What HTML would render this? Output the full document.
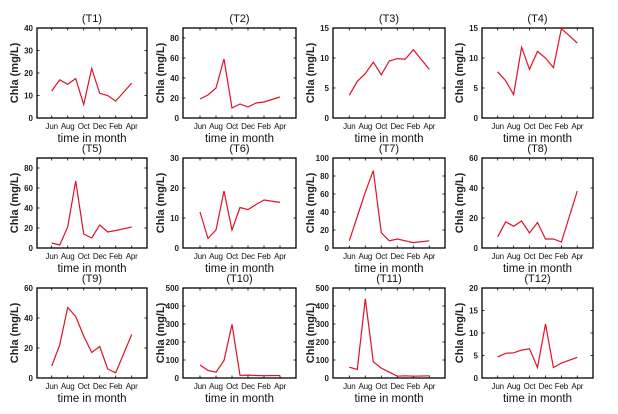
<!DOCTYPE html>
<html><head><meta charset="utf-8"><style>
body{margin:0;background:#fff;}
svg{display:block;font-family:"Liberation Sans",Arial,sans-serif;}
</style></head><body>
<svg id="chart" width="618" height="414" viewBox="0 0 618 414"></svg>
<script>
const months = ["Jun","Jul","Aug","Sep","Oct","Nov","Dec","Jan","Feb","Apr"];
const monthIdx = [0,1,2,3,4,5,6,7,8,10];
const tickLabels = ["Jun","Aug","Oct","Dec","Feb","Apr"];
const tickIdx = [0,2,4,6,8,10];
const titles = ["(T1)","(T2)","(T3)","(T4)","(T5)","(T6)","(T7)","(T8)","(T9)","(T10)","(T11)","(T12)"];
const yMax = [40,90,15,15,90,30,100,60,60,500,500,20];
const yStep = [10,20,5,5,20,10,20,20,20,100,100,5];
const s1 = [12,17,15,17.5,6,22,11,10,7.5,15.5];
const s2 = [19,23,30,59,10,14,11,15,16,21];
const s3 = [3.8,6.1,7.4,9.3,7.2,9.5,9.9,9.8,11.4,8.1];
const s4 = [7.7,6.2,3.9,11.8,8.1,11.1,10.0,8.4,14.9,12.5];
const s5 = [5,3,21,67,14,10,23,16,17.5,21];
const s6 = [12,3.2,6,19,6,13.5,12.8,14.5,16,15.2];
const s7 = [8,35,62,86,17,8,10,8,6,8];
const s8 = [7.5,17.5,14.5,18,10,17,6,6,4,38];
const s9 = [8,22,47,41,28,17,21,6,3.5,29];
const s10 = [72,42,32,97,298,15,16,14,13,14];
const s11 = [60,47,440,90,55,32,10,12,10,12];
const s12 = [4.7,5.5,5.6,6.2,6.5,2.3,12,2.3,3.3,4.6];
const series = [s1,s2,s3,s4,s5,s6,s7,s8,s9,s10,s11,s12];

const NS = "http://www.w3.org/2000/svg";
const svg = document.getElementById("chart");
const cols = [{l:37,r:147,j:51.7,a:131.7},{l:183,r:296,j:200,a:280},{l:333,r:445,j:349.3,a:429.3},{l:482,r:593,j:497.7,a:577.3}];
const rows = [{t:28,b:118},{t:158,b:248},{t:288,b:378}];
function mk(tag, attrs, parent){const e=document.createElementNS(NS,tag);for(const k in attrs)e.setAttribute(k,attrs[k]);(parent||svg).appendChild(e);return e;}

for(let p=0;p<12;p++){
  const c=cols[p%4], r=rows[Math.floor(p/4)];
  const g=mk("g",{});
  
  
  const xs=i=>c.j+(c.a-c.j)*i/10;
  const ys=v=>r.b-(r.b-r.t)*v/yMax[p];
  const frame=mk("rect",{x:c.l,y:r.t,width:c.r-c.l,height:r.b-r.t,fill:"none",stroke:"#000","stroke-width":1.3},g);
  
  
  for(let v=0;v<=yMax[p]+1e-9;v+=yStep[p]){
    const y=ys(v);
    mk("line",{x1:c.l,x2:c.l+2.5,y1:y,y2:y,stroke:"#000","stroke-width":0.8},g);
    mk("line",{x1:c.r,x2:c.r-2.5,y1:y,y2:y,stroke:"#000","stroke-width":0.8},g);
    const t=mk("text",{x:c.l-4,y:y+3,"text-anchor":"end","font-size":8,"font-weight":"bold",fill:"#222"},g);
    t.textContent=v;
    
    
  }
  tickIdx.forEach((ti,k)=>{
    const x=xs(ti);
    mk("line",{x1:x,x2:x,y1:r.b,y2:r.b-2.5,stroke:"#000","stroke-width":0.8},g);
    mk("line",{x1:x,x2:x,y1:r.t,y2:r.t+2.5,stroke:"#000","stroke-width":0.8},g);
    const t=mk("text",{x:x,y:r.b+11,"text-anchor":"middle","font-size":8,"letter-spacing":"-0.2",fill:"#111"},g);
    t.textContent=tickLabels[k];
    
    
  });
  const tt=mk("text",{x:(c.l+c.r)/2,y:r.t-6,"text-anchor":"middle","font-size":11,fill:"#111"},g);
  tt.textContent=titles[p];
  
  
  const xl=mk("text",{x:(c.l+c.r)/2,y:r.b+24,"text-anchor":"middle","font-size":11.5,fill:"#111"},g);
  xl.textContent="time in month";
  
  
  const yx=c.l-19, ym=(r.t+r.b)/2;
  const yl=mk("text",{x:yx,y:ym,"text-anchor":"middle","font-size":11,"font-weight":"bold",fill:"#222",transform:`rotate(-90 ${yx} ${ym})`},g);
  yl.textContent="Chla (mg/L)";
  
  
  const pts=series[p].map((v,i)=>xs(monthIdx[i]).toFixed(1)+","+ys(v).toFixed(1)).join(" ");
  const pl=mk("polyline",{points:pts,fill:"none",stroke:"#e01028","stroke-width":1.2},g);
  
  
}
</script>
</body></html>
